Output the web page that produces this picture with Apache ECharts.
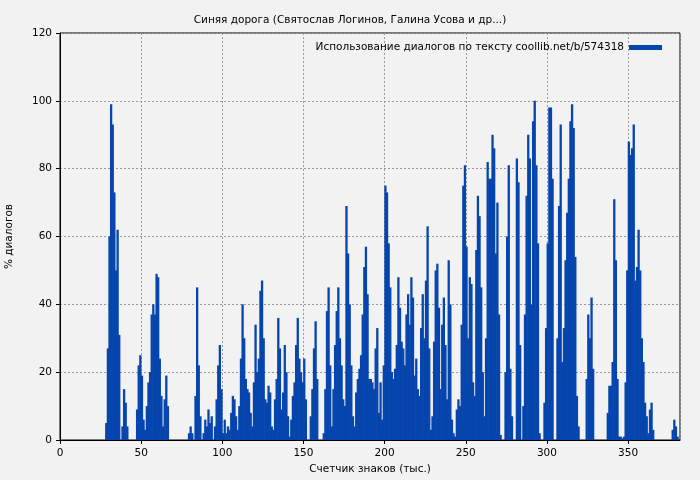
<!DOCTYPE html>
<html><head><meta charset="utf-8">
<script src="https://cdn.jsdelivr.net/npm/echarts@6/dist/echarts.min.js"></script>
<style>html,body{margin:0;background:#f2f2f2}#c{width:700px;height:480px}</style>
</head><body><div id="c"></div>
<script>
const titleText = 'Синяя дорога (Святослав Логинов, Галина Усова и др...)';
const seriesName = 'Использование диалогов по тексту coollib.net/b/574318';
const xTicks = [0, 50, 100, 150, 200, 250, 300, 350];
const yTicks = [0, 20, 40, 60, 80, 100, 120];
const values = [
0,0,0,0,0,0,0,0,0,0,
0,0,0,0,0,0,0,0,0,0,
0,0,0,0,0,0,0,0,5,27,
60,99,93,73,50,62,31,0,4,15,
11,4,0,0,0,0,0,9,22,25,
19,6,3,10,17,20,37,40,37,49,
48,24,13,4,12,19,10,0,0,0,
0,0,0,0,0,0,0,0,0,2,
4,2,0,13,45,22,7,0,2,6,
4,9,5,7,0,4,12,22,28,15,
2,6,2,4,3,8,13,12,7,3,
10,24,40,30,18,15,14,8,4,17,
34,20,24,44,47,30,12,11,16,14,
4,3,12,18,36,27,9,14,28,20,
7,1,6,13,17,28,36,24,20,17,
24,12,0,0,7,15,27,35,18,0,
0,0,2,15,38,45,22,4,15,28,
38,45,30,22,12,10,69,55,40,22,
7,4,14,18,21,25,37,51,57,43,
18,18,17,15,27,33,8,17,6,22,
75,73,58,45,20,18,21,28,48,39,
29,27,22,37,43,34,48,42,19,24,
15,13,33,43,30,47,63,27,3,7,
29,50,52,39,15,34,42,28,12,53,
40,6,2,1,9,12,10,34,75,81,
57,30,48,46,17,13,56,72,66,45,
20,7,30,82,77,77,90,86,55,70,
37,1.5,0,0,20,60,81,21,7,0,
0,83,76,28,0,10,37,72,90,83,
40,94,100,81,58,2,0,0,11,33,
58,98,98,77,0,0,30,69,93,23,
33,53,67,77,94,99,92,54,13,4,
0,0,0,0,18,37,30,42,21,0,
0,0,0,0,0,0,0,8,16,16,
23,71,53,18,1,1,0.5,1,17,50,
88,84,86,93,47,51,62,50,30,23,
11,7,2,9,11,3,0,0,0,0,
0,0,0,0,0,0,0,3,6,4,
1,0
];
const data = values.map((v, i) => [i + 0.5, v]);
const chart = echarts.init(document.getElementById('c'));
const font = 'DejaVu Sans';
chart.setOption({
  backgroundColor: '#f2f2f2',
  animation: false,
  title: { text: titleText, left: 'center', top: 10, textStyle: { fontFamily: font, fontSize: 10.5, fontWeight: 'normal', color: '#000' } },
  legend: { data: [seriesName], right: 33, top: 37, align: 'right', itemWidth: 33, itemHeight: 5, icon: 'rect', itemGap: 6,
    textStyle: { fontFamily: font, fontSize: 10.5, color: '#000' } },
  grid: { left: 60, right: 20, top: 33, bottom: 40, containLabel: false, outerBoundsMode: 'none', show: true, borderColor: '#000', borderWidth: 1 },
  xAxis: { type: 'value', min: 0, max: 382, interval: 50, name: 'Счетчик знаков (тыс.)', nameLocation: 'middle', nameGap: 24,
    nameTextStyle: { fontFamily: font, fontSize: 10.5, color: '#000' },
    axisLine: { lineStyle: { color: '#000' } }, axisTick: { lineStyle: { color: '#000' }, length: 4 },
    axisLabel: { fontFamily: font, fontSize: 10.5, color: '#000', showMaxLabel: false },
    splitLine: { show: true, lineStyle: { color: '#999', type: [2, 2] } } },
  yAxis: { type: 'value', min: 0, max: 120, interval: 20, name: '% диалогов', nameLocation: 'middle', nameGap: 45,
    nameTextStyle: { fontFamily: font, fontSize: 10.5, color: '#000' },
    axisLine: { show: true, lineStyle: { color: '#000' } }, axisTick: { show: true, lineStyle: { color: '#000' }, length: 4 },
    axisLabel: { fontFamily: font, fontSize: 10.5, color: '#000' },
    splitLine: { show: true, lineStyle: { color: '#999', type: [2, 2] } } },
  series: [{ name: seriesName, type: 'bar', data: data, barWidth: 2.3, itemStyle: { color: '#0645ad' } }]
});
</script></body></html>
